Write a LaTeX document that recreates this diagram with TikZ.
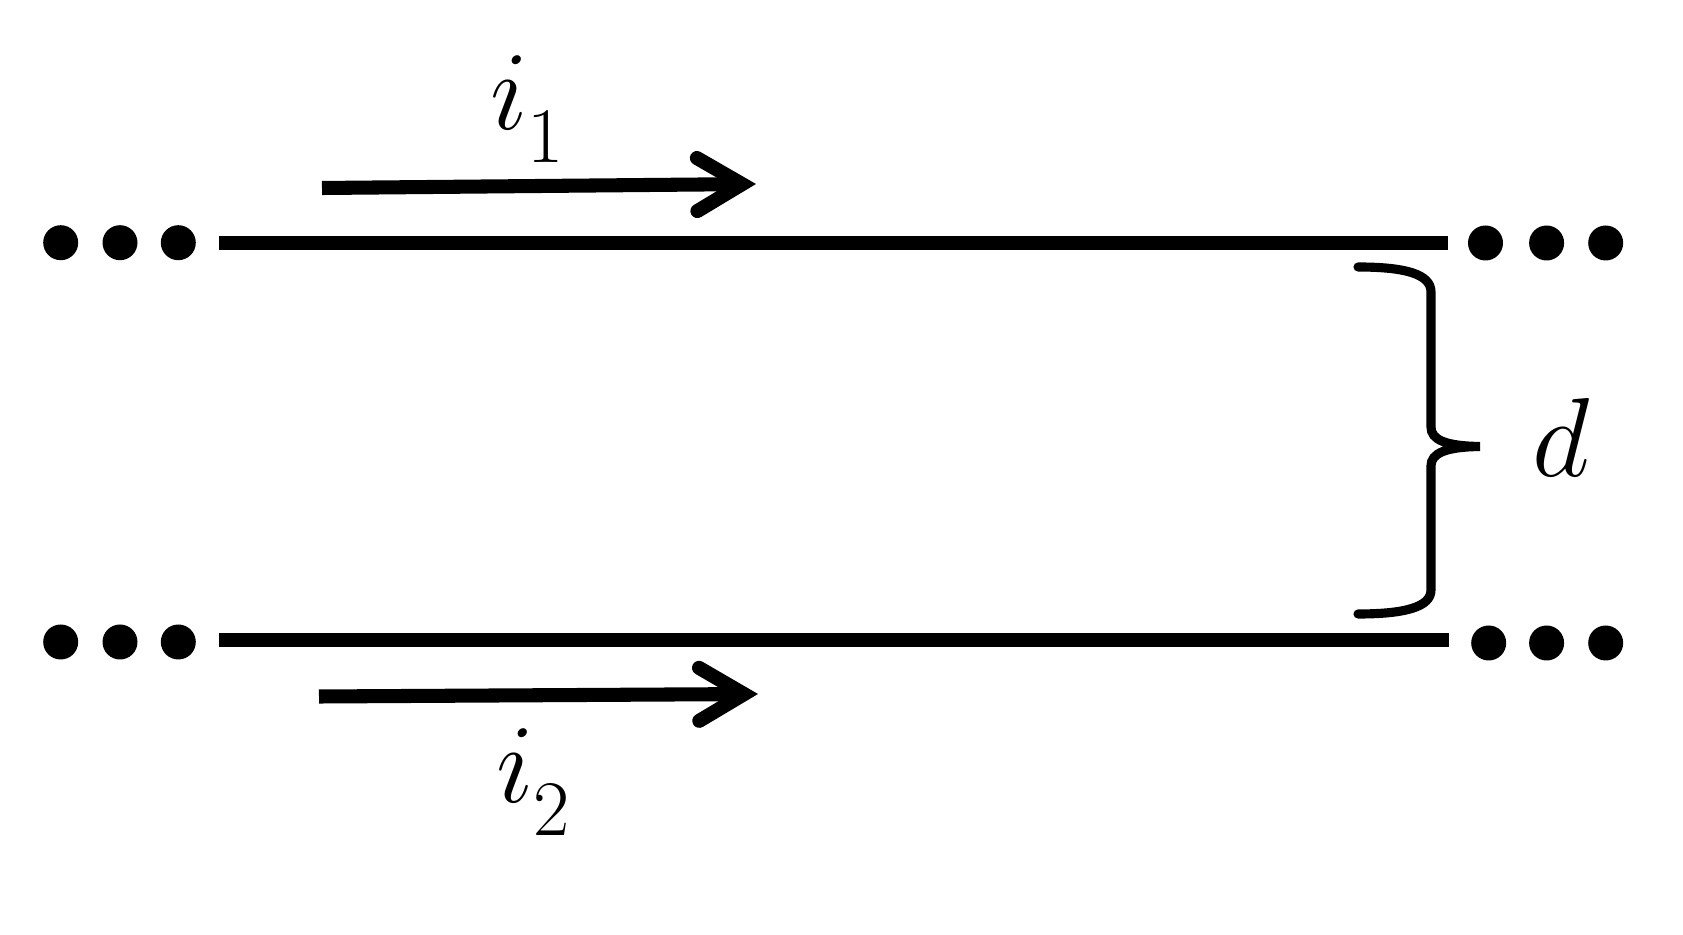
\RequirePackage{fix-cm}
\documentclass[tikz,border=0pt]{standalone}
\usetikzlibrary{arrows.meta,positioning}
\newcommand\lowsub[1]{\raisebox{-1.6mm}{$\scriptstyle #1$}}

\begin{document}
\begin{tikzpicture}
		[x=0.1mm,y=-0.1mm,
		wire/.style={line width=4pt},
		wire dot/.style={circle,fill=black,draw=none,minimum size=3.5mm,inner sep=0pt},
		current/.style={line width=4pt,-{Straight Barb[length=4.5mm,width=5.3mm,line cap=round]}},
		label node/.style={draw=none,fill=none,inner sep=0pt,anchor=base,font=\fontsize{32}{38}\selectfont},
		gap brace/.style={line width=2.6pt,line cap=round}]
		\useasboundingbox (0,0) rectangle (1683,935);
		
		% dots at both ends of the wires
		\foreach \x [count=\k] in {60.7,120,178.3} {
			\node[wire dot] (tl\k) at (\x,242.7) {};
			\node[wire dot] (bl\k) at (\x,642) {};
		}
		\foreach \x/\xb [count=\k] in {1485.5/1488.7,1546.6/1546.6,1605.7/1605.7} {
			\node[wire dot] (tr\k) at (\x,243) {};
			\node[wire dot] (br\k) at (\xb,643) {};
		}
		
		\coordinate (top w) at (218.5,243);
		\coordinate (top e) at (1448,243);
		\coordinate (bot w) at (219,640);
		\coordinate (bot e) at (1449,640);
		\draw[wire] (top w) -- (top e);
		\draw[wire] (bot w) -- (bot e);
		
		% currents
		\coordinate (i1 s) at (322,188);
		\coordinate (i1 e) at (756,184);
		\coordinate (i2 s) at (319,696.5);
		\coordinate (i2 e) at (758,694);
		\draw[current] (i1 s) -- (i1 e);
		\draw[current] (i2 s) -- (i2 e);
		\node[label node] (i1) at (528,130) {$i_{\lowsub{1}}$};
		\node[label node] (i2) at (534,803) {$i_{\lowsub{2}}$};
		
		% separation
		\draw[gap brace] (1358,267) .. controls (1405,267) and (1431,274) .. (1431,292)
			-- (1431,427) .. controls (1431,440) and (1446,446) .. (1480,446.5)
			.. controls (1446,447) and (1431,453) .. (1431,466)
			-- (1431,590) .. controls (1431,607) and (1405,614) .. (1358,614);
		\node[label node] (d) at (1561,477) {$d$};
\end{tikzpicture}
\end{document}
